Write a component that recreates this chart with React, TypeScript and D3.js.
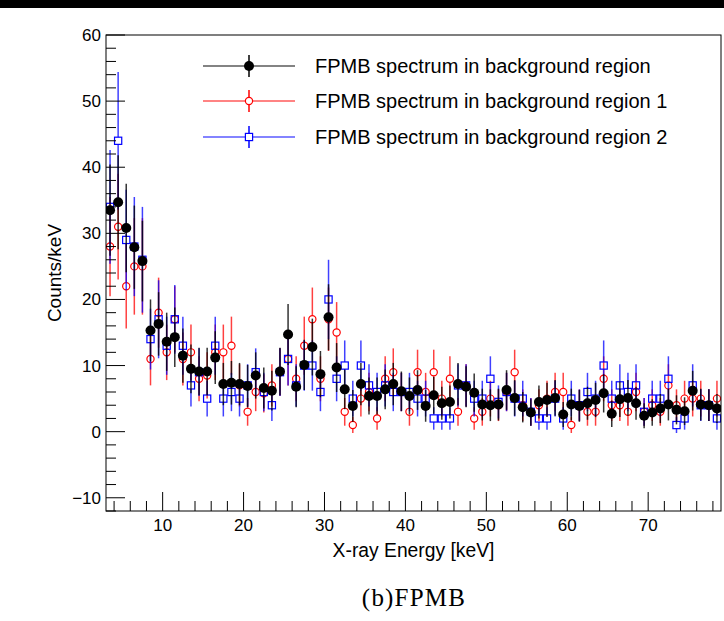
import React from "react";
import * as d3 from "d3";

// Bin centres [keV], 1 keV bins from 3 to 79 keV
const energy = [
  3.5, 4.5, 5.5, 6.5, 7.5, 8.5, 9.5, 10.5, 11.5, 12.5, 13.5, 14.5, 15.5, 16.5, 17.5, 18.5, 19.5, 20.5, 21.5,
  22.5, 23.5, 24.5, 25.5, 26.5, 27.5, 28.5, 29.5, 30.5, 31.5, 32.5, 33.5, 34.5, 35.5, 36.5, 37.5, 38.5, 39.5,
  40.5, 41.5, 42.5, 43.5, 44.5, 45.5, 46.5, 47.5, 48.5, 49.5, 50.5, 51.5, 52.5, 53.5, 54.5, 55.5, 56.5, 57.5,
  58.5, 59.5, 60.5, 61.5, 62.5, 63.5, 64.5, 65.5, 66.5, 67.5, 68.5, 69.5, 70.5, 71.5, 72.5, 73.5, 74.5, 75.5,
  76.5, 77.5, 78.5,
];

// FPMB spectrum in background region (combined)
const bgAll = [
  33.5, 34.7, 30.8, 27.9, 25.8, 15.3, 16.3, 13.6, 14.3, 11.5, 9.5, 9.1, 9.1, 11.2, 7.2, 7.4, 7.2, 6.9, 8.5,
  6.6, 6.2, 9.1, 14.7, 6.8, 10.1, 12.8, 8.7, 17.3, 9.7, 6.4, 3.9, 7.2, 5.4, 5.4, 6.4, 7.2, 6.1,
  5.4, 6.3, 3.9, 5.5, 4.3, 4.5, 7.2, 6.8, 5.9, 4.1, 4.0, 4.1, 6.3, 5.1, 3.7, 2.9, 4.5, 4.8,
  5.1, 2.6, 4.1, 3.9, 4.3, 4.8, 5.8, 2.7, 4.9, 5.1, 4.3, 2.4, 2.9, 3.5, 4.1, 3.3, 3.1, 6.2,
  4.1, 4.0, 3.5,
];
const bgAllErr = [
  6.9, 7.1, 6.7, 6.3, 6.1, 4.7, 4.8, 4.4, 4.5, 4.1, 3.7, 3.6, 3.6, 4.0, 3.2, 3.3, 3.2, 3.2, 3.5,
  3.1, 3.0, 3.6, 4.6, 3.1, 3.8, 4.3, 3.5, 5.0, 3.7, 3.0, 2.4, 3.2, 2.8, 2.8, 3.0, 3.2, 3.0,
  2.8, 3.0, 2.4, 2.8, 2.5, 2.5, 3.2, 3.1, 2.9, 2.4, 2.4, 2.4, 3.0, 2.7, 2.3, 2.0, 2.5, 2.6,
  2.7, 1.9, 2.4, 2.4, 2.5, 2.6, 2.9, 2.0, 2.7, 2.7, 2.5, 1.9, 2.0, 2.2, 2.4, 2.2, 2.1, 3.0,
  2.4, 2.4, 2.2,
];

// FPMB spectrum in background region 1
const bg1 = [
  28, 31, 22, 25, 25, 11, 18, 12, 17, 11, 12, 8, 8.5, 12, 12, 13, 7, 3, 6,
  5.8, 7, 9, 11, 8, 13, 17, 8, 17, 15, 3, 1, 5, 6, 2, 8, 9, 6,
  3, 9, 6, 9, 5, 8, 3, 7, 2, 3, 5, 4, 6, 9, 4, 3, 4, 5,
  6, 6, 1, 4, 3, 3, 8, 4, 4, 3, 6, 3, 4, 3, 7, 4, 5, 5,
  5, 4, 5,
];
const bg1Err = [
  7.5, 8.0, 6.4, 7.3, 7.3, 4.0, 5.3, 4.2, 5.0, 4.0, 4.2, 3.4, 3.5, 4.2, 4.2, 4.4, 3.2, 2.1, 2.9,
  2.9, 3.2, 3.6, 4.0, 3.4, 4.4, 4.8, 3.4, 4.8, 4.6, 2.1, 1.2, 2.7, 2.9, 1.7, 3.4, 3.6, 2.9,
  2.1, 3.4, 2.9, 3.4, 2.7, 3.4, 2.1, 3.2, 1.7, 2.1, 2.7, 2.4, 2.9, 3.4, 2.4, 2.1, 2.4, 2.7,
  2.9, 2.9, 1.2, 2.4, 2.1, 2.1, 3.4, 2.4, 2.4, 2.1, 2.9, 2.1, 2.4, 2.1, 3.2, 2.4, 2.7, 2.7,
  2.7, 2.4, 2.7,
];

// FPMB spectrum in background region 2
const bg2 = [
  34, 44, 29, 28, 26, 14, 17, 13, 17, 13, 7, 9, 5, 13, 5, 6, 5, 7, 9,
  6, 4, 9, 11, 7, 10, 10, 6, 20, 8, 10, 5, 10, 7, 6, 7, 6, 6,
  6, 5, 5, 2, 2, 2, 7, 7, 5, 5, 8, 4.5, 6, 5, 5, 3, 2, 2,
  5, 2, 5, 4, 6, 5, 10, 5, 7, 6, 7, 3, 5, 5, 8, 1, 2, 7,
  4, 4, 2,
];
const bg2Err = [
  8.6, 10.4, 7.6, 7.5, 8.0, 4.6, 5.9, 4.4, 5.2, 4.4, 3.2, 3.6, 2.7, 4.4, 2.7, 2.9, 2.7, 3.2, 3.6,
  2.9, 2.4, 3.6, 4.0, 3.2, 3.8, 3.8, 2.9, 6.0, 3.4, 3.8, 2.7, 3.8, 3.2, 2.9, 3.2, 2.9, 2.9,
  2.9, 2.7, 2.7, 1.7, 1.7, 1.7, 3.2, 3.2, 2.7, 2.7, 3.4, 2.5, 2.9, 2.7, 2.7, 2.1, 1.7, 1.7,
  2.7, 1.7, 2.7, 2.4, 2.9, 2.7, 3.8, 2.7, 3.2, 2.9, 3.2, 2.1, 2.7, 2.7, 3.4, 1.2, 1.7, 3.2,
  2.4, 2.4, 1.7,
];

const xMajorTicks = [10, 20, 30, 40, 50, 60, 70];
const xMinorTicks = [4, 6, 8, 12, 14, 16, 18, 22, 24, 26, 28, 32, 34, 36, 38, 42, 44, 46, 48, 52, 54, 56, 58, 62, 64, 66, 68, 72, 74, 76, 78];
const yMajorTicks = [-10, 0, 10, 20, 30, 40, 50, 60];
const yMinorTicks = [-12, -8, -6, -4, -2, 2, 4, 6, 8, 12, 14, 16, 18, 22, 24, 26, 28, 32, 34, 36, 38, 42, 44, 46, 48, 52, 54, 56, 58];

const legendLabels = [
  "FPMB spectrum in background region",
  "FPMB spectrum in background region 1",
  "FPMB spectrum in background region 2",
];

const W = 724;
const H = 621;
const frame = { left: 106, right: 721, top: 35, bottom: 511 };
const SANS = "Arial, 'Liberation Sans', Helvetica, sans-serif";

type Kind = "dot" | "circle" | "square";

function Marker({ kind, x, y, color }: { kind: Kind; x: number; y: number; color: string }) {
  if (kind === "dot") return <circle cx={x} cy={y} r={5} fill={color} />;
  if (kind === "circle") return <circle cx={x} cy={y} r={3.6} fill="none" stroke={color} strokeWidth={1.2} />;
  return <rect x={x - 3.6} y={y - 3.6} width={7.2} height={7.2} fill="none" stroke={color} strokeWidth={1.2} />;
}

export default function App() {
  const x = d3.scaleLinear().domain([3, 79]).range([frame.left, frame.right]);
  const y = d3.scaleLinear().domain([-12, 60]).range([frame.bottom, frame.top]);

  const series: { vals: number[]; errs: number[]; color: string; kind: Kind; half: number }[] = [
    { vals: bg1, errs: bg1Err, color: "#ff0000", kind: "circle", half: 3.6 },
    { vals: bg2, errs: bg2Err, color: "#0000ff", kind: "square", half: 3.6 },
    { vals: bgAll, errs: bgAllErr, color: "#000000", kind: "dot", half: 0 },
  ];

  const clampY = (v: number) => Math.max(frame.top, Math.min(frame.bottom, v));

  const legendRows = [
    { label: legendLabels[0], color: "#000000", kind: "dot" as Kind, cy: 66 },
    { label: legendLabels[1], color: "#ff0000", kind: "circle" as Kind, cy: 101 },
    { label: legendLabels[2], color: "#0000ff", kind: "square" as Kind, cy: 137 },
  ];

  return (
    <div style={{ position: "fixed", left: 0, top: 0, width: W, height: H, background: "#fff" }}>
      <svg width={W} height={H} viewBox={`0 0 ${W} ${H}`} style={{ display: "block" }}>
        <rect x={0} y={0} width={W} height={H} fill="#ffffff" />
        <rect x={0} y={0} width={W} height={8} fill="#000000" />

        <defs>
          <clipPath id="plotArea">
            <rect x={frame.left} y={frame.top} width={frame.right - frame.left} height={frame.bottom - frame.top} />
          </clipPath>
        </defs>

        {/* data: error bars and markers */}
        <g clipPath="url(#plotArea)">
          {series.map((s, si) => (
            <g key={si}>
              {s.vals.map((v, i) => {
                const cx = x(energy[i]);
                const cy = y(v);
                const yHi = clampY(y(v + s.errs[i]));
                const yLo = clampY(y(v - s.errs[i]));
                return (
                  <g key={i}>
                    {s.half > 0 ? (
                      <>
                        <line x1={cx} x2={cx} y1={yHi} y2={cy - s.half} stroke={s.color} strokeWidth={1.5} strokeOpacity={0.75} />
                        <line x1={cx} x2={cx} y1={cy + s.half} y2={yLo} stroke={s.color} strokeWidth={1.5} strokeOpacity={0.75} />
                      </>
                    ) : (
                      <line x1={cx} x2={cx} y1={yHi} y2={yLo} stroke={s.color} strokeWidth={1.5} strokeOpacity={0.8} />
                    )}
                    <Marker kind={s.kind} x={cx} y={cy} color={s.color} />
                  </g>
                );
              })}
            </g>
          ))}
        </g>

        {/* frame */}
        <rect
          x={frame.left}
          y={frame.top}
          width={frame.right - frame.left}
          height={frame.bottom - frame.top}
          fill="none"
          stroke="#000"
          strokeWidth={1}
        />

        {/* x axis ticks */}
        {xMajorTicks.map((t) => (
          <line key={"xM" + t} x1={x(t)} x2={x(t)} y1={frame.bottom} y2={frame.bottom - 19} stroke="#000" strokeWidth={1} />
        ))}
        {xMinorTicks.map((t) => (
          <line key={"xm" + t} x1={x(t)} x2={x(t)} y1={frame.bottom} y2={frame.bottom - 10} stroke="#000" strokeWidth={1} />
        ))}
        {xMajorTicks.map((t) => (
          <text key={"xl" + t} x={x(t)} y={frame.bottom + 20} textAnchor="middle" fontFamily={SANS} fontSize={17} fill="#000">
            {t}
          </text>
        ))}

        {/* y axis ticks */}
        {yMajorTicks.map((t) => (
          <line key={"yM" + t} x1={frame.left} x2={frame.left + 19} y1={y(t)} y2={y(t)} stroke="#000" strokeWidth={1} />
        ))}
        {yMinorTicks.map((t) => (
          <line key={"ym" + t} x1={frame.left} x2={frame.left + 10} y1={y(t)} y2={y(t)} stroke="#000" strokeWidth={1} />
        ))}
        {yMajorTicks.map((t) => (
          <text key={"yl" + t} x={frame.left - 5} y={y(t)} dy="0.35em" textAnchor="end" fontFamily={SANS} fontSize={17} fill="#000">
            {t < 0 ? "\u2212" + Math.abs(t) : t}
          </text>
        ))}

        {/* axis titles */}
        <text x={(frame.left + frame.right) / 2} y={557} textAnchor="middle" fontFamily={SANS} fontSize={19.3} fill="#000">
          X-ray Energy [keV]
        </text>
        <text
          transform={`translate(61, ${(frame.top + frame.bottom) / 2}) rotate(-90)`}
          textAnchor="middle"
          fontFamily={SANS}
          fontSize={19}
          fill="#000"
        >
          Counts/keV
        </text>

        {/* legend */}
        {legendRows.map((r) => (
          <g key={r.label}>
            <line x1={203} x2={295} y1={r.cy} y2={r.cy} stroke={r.color} strokeWidth={1.5} strokeOpacity={0.65} />
            <line x1={249} x2={249} y1={r.cy - 11} y2={r.cy + 11} stroke={r.color} strokeWidth={1.5} />
            {r.kind !== "dot" && <rect x={245} y={r.cy - 4} width={8} height={8} fill="#fff" />}
            <Marker kind={r.kind} x={249} y={r.cy} color={r.color} />
            <text x={315} y={r.cy} dy="0.35em" fontFamily={SANS} fontSize={20} fill="#000">
              {r.label}
            </text>
          </g>
        ))}

        {/* caption */}
        <text
          x={414}
          y={606}
          textAnchor="middle"
          fontFamily="'Liberation Serif', 'DejaVu Serif', serif"
          fontSize={25}
          letterSpacing={1.2}
          fill="#000"
        >
          (b)FPMB
        </text>
      </svg>
    </div>
  );
}
